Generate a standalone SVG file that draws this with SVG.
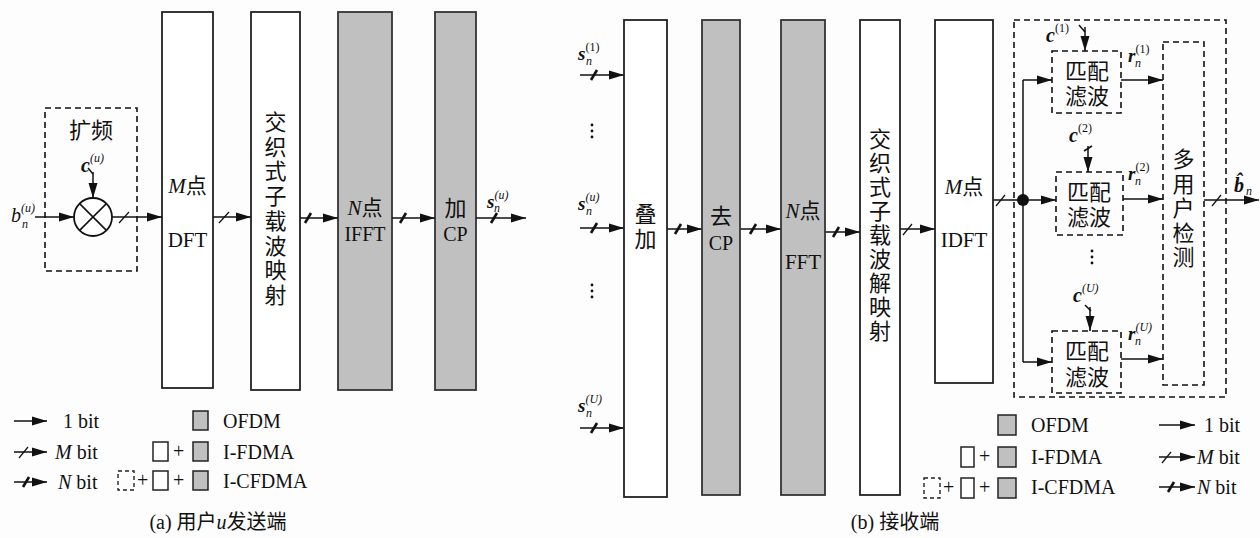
<svg xmlns="http://www.w3.org/2000/svg" width="1260" height="538" viewBox="0 0 1260 538">
<defs>
<style>
text{font-family:"Liberation Serif","Noto Sans CJK SC",serif;fill:#111;}
.t{font-size:21px;text-anchor:middle;}
.cj{font-size:22px;text-anchor:middle;}
.lg{font-size:20px;}
.sm{font-size:12px;}
.bi{font-weight:bold;font-style:italic;}
.it{font-style:italic;}
.box{fill:#fff;stroke:#222;stroke-width:1.8;}
.gbox{fill:#c0c0c0;stroke:#333;stroke-width:1.8;}
.dbox{fill:none;stroke:#111;stroke-width:1.6;stroke-dasharray:6,4;}
.ln{fill:none;stroke:#111;stroke-width:1.5;}
.ar{fill:none;stroke:#111;stroke-width:1.5;marker-end:url(#ah);}
.ms{stroke:#111;stroke-width:1.2;}
.ns{stroke:#111;stroke-width:2.6;}
</style>
<marker id="ah" markerUnits="userSpaceOnUse" markerWidth="16" markerHeight="10" refX="15" refY="5" orient="auto">
<path d="M0,0.5 L15,5 L0,9.5 z" fill="#111"/>
</marker>
</defs>
<rect width="1260" height="538" fill="#fdfdfd"/>

<!-- ===== (a) transmitter ===== -->
<g id="spread">
<rect class="dbox" x="45" y="108" width="92" height="163"/>
<text class="cj" x="91" y="138">扩频</text>
<circle cx="93" cy="217" r="19" fill="#fff" stroke="#111" stroke-width="1.8"/>
<path class="ln" d="M79.6,203.6 L106.4,230.4 M106.4,203.6 L79.6,230.4" stroke-width="1.8"/>
<text x="81" y="172" font-size="20" class="bi">c<tspan class="sm" font-style="italic" font-weight="normal" dy="-10">(u)</tspan></text>
</g>
<g id="dft"><rect class="box" x="162" y="12" width="51" height="376"/>
<text class="t" x="187.5" y="193"><tspan class="it">M</tspan>点</text>
<text class="t" x="187.5" y="247">DFT</text></g>
<g id="map"><rect class="box" x="251" y="12" width="49" height="378"/>
<text class="cj" x="275.5" y="130">交<tspan x="275.5" dy="24.7">织</tspan><tspan x="275.5" dy="24.7">式</tspan><tspan x="275.5" dy="24.7">子</tspan><tspan x="275.5" dy="24.7">载</tspan><tspan x="275.5" dy="24.7">波</tspan><tspan x="275.5" dy="24.7">映</tspan><tspan x="275.5" dy="24.7">射</tspan></text></g>
<g id="ifft"><rect class="gbox" x="338" y="12" width="54" height="378"/>
<text class="t" x="365" y="215"><tspan class="it">N</tspan>点</text>
<text x="365" y="241" font-size="20" text-anchor="middle">IFFT</text></g>
<g id="addcp"><rect class="gbox" x="435" y="12" width="41" height="378"/>
<text class="cj" x="455.5" y="216">加</text>
<text x="455.5" y="241" font-size="20" text-anchor="middle">CP</text></g>
<g id="labels-a">
<text x="11" y="222" font-size="20" class="it">b<tspan class="sm" dy="-10">(u)</tspan><tspan class="sm" x="22" dy="16">n</tspan></text>
<text x="487" y="208" font-size="19" class="bi">s<tspan class="sm" font-weight="normal" dy="-9">(u)</tspan><tspan class="sm" font-weight="normal" x="494" dy="13">n</tspan></text>
</g>

<g id="connectors">
<!-- (a) -->
<path class="ar" d="M35,217 H74"/>
<path class="ln" d="M88,168 L93,174"/>
<path class="ar" d="M93,172 V198"/>
<path class="ar" d="M112,217 H162"/><line class="ms" x1="119" y1="223" x2="129" y2="212"/>
<path class="ar" d="M213,217 H251"/><line class="ms" x1="219" y1="223" x2="229" y2="212"/>
<path class="ar" d="M300,218 H338"/><line class="ns" x1="305" y1="223" x2="311" y2="213"/>
<path class="ar" d="M392,218 H435"/><line class="ns" x1="400" y1="223" x2="406" y2="213"/>
<path class="ar" d="M476,218 H526"/><line class="ns" x1="491" y1="223" x2="497" y2="213"/>
<!-- (b) -->
<path class="ar" d="M580,75 H624"/><line class="ns" x1="591" y1="80" x2="597" y2="70"/>
<path class="ar" d="M580,228 H624"/><line class="ns" x1="591" y1="233" x2="597" y2="223"/>
<path class="ar" d="M580,428 H624"/><line class="ns" x1="591" y1="433" x2="597" y2="423"/>
<path class="ar" d="M667,229 H702"/><line class="ns" x1="675" y1="234" x2="681" y2="224"/>
<path class="ar" d="M740,229 H781"/><line class="ns" x1="750" y1="234" x2="756" y2="224"/>
<path class="ar" d="M825,232 H860"/><line class="ns" x1="833" y1="237" x2="839" y2="227"/>
<path class="ar" d="M900,229 H935"/><line class="ms" x1="903" y1="235" x2="912" y2="224"/>
<path class="ln" d="M993,200 H1023"/><line class="ms" x1="996" y1="206" x2="1005" y2="195"/>
<circle cx="1023" cy="200" r="6" fill="#111"/>
<path class="ln" d="M1023,80 V362"/>
<path class="ar" d="M1023,80 H1052"/>
<path class="ar" d="M1023,200 H1056"/>
<path class="ar" d="M1023,362 H1052"/>
<path class="ln" d="M1079,25 L1085,32"/>
<path class="ar" d="M1085,27 V51"/>
<path class="ln" d="M1084,151 L1092,146"/>
<path class="ar" d="M1088,146 V172"/>
<path class="ln" d="M1085,305 L1091,311"/>
<path class="ar" d="M1090,307 V331"/>
<path class="ar" d="M1121,80 H1163"/>
<path class="ar" d="M1123,199 H1163"/>
<path class="ar" d="M1121,359 H1163"/>
<path class="ar" d="M1204,200 H1259"/><line class="ms" x1="1212" y1="206" x2="1221" y2="195"/>
<!-- legends -->
<path class="ar" d="M14,421 H47"/>
<path class="ar" d="M14,452 H47"/><line class="ms" x1="19" y1="458" x2="28" y2="447"/>
<path class="ar" d="M14,482 H47"/><line class="ns" x1="23" y1="487" x2="29" y2="477"/>
<path class="ar" d="M1159,425 H1195"/>
<path class="ar" d="M1159,457 H1195"/><line class="ms" x1="1162" y1="463" x2="1171" y2="452"/>
<path class="ar" d="M1159,487 H1195"/><line class="ns" x1="1168" y1="492" x2="1174" y2="482"/>
</g>

<!-- ===== (b) receiver ===== -->
<g id="inputs">
<text x="578" y="60" font-size="19" class="bi">s<tspan class="sm" font-weight="normal" font-style="normal" dy="-9">(1)</tspan><tspan class="sm" font-weight="normal" x="586" dy="14">n</tspan></text>
<text x="578" y="210" font-size="19" class="bi">s<tspan class="sm" font-weight="normal" dy="-9">(u)</tspan><tspan class="sm" font-weight="normal" x="586" dy="14">n</tspan></text>
<text x="578" y="412" font-size="19" class="bi">s<tspan class="sm" font-weight="normal" dy="-9">(U)</tspan><tspan class="sm" font-weight="normal" x="586" dy="14">n</tspan></text>
<g fill="#111"><circle cx="592" cy="125" r="1.4"/><circle cx="592" cy="131" r="1.4"/><circle cx="592" cy="137" r="1.4"/>
<circle cx="592" cy="285" r="1.4"/><circle cx="592" cy="291" r="1.4"/><circle cx="592" cy="297" r="1.4"/></g>
</g>
<g id="sum"><rect class="box" x="624" y="20" width="43" height="477"/>
<text class="cj" x="645.5" y="222">叠<tspan x="645.5" dy="25">加</tspan></text></g>
<g id="rmcp"><rect class="gbox" x="702" y="20" width="38" height="475"/>
<text class="cj" x="721" y="224">去</text><text x="721" y="250" font-size="20" text-anchor="middle">CP</text></g>
<g id="fft"><rect class="gbox" x="781" y="20" width="44" height="475"/>
<text class="t" x="803" y="218"><tspan class="it">N</tspan>点</text><text class="t" x="803" y="269">FFT</text></g>
<g id="demap"><rect class="box" x="860" y="20" width="40" height="475"/>
<text class="cj" x="880" y="147">交<tspan x="880" dy="24">织</tspan><tspan x="880" dy="24">式</tspan><tspan x="880" dy="24">子</tspan><tspan x="880" dy="24">载</tspan><tspan x="880" dy="24">波</tspan><tspan x="880" dy="24">解</tspan><tspan x="880" dy="24">映</tspan><tspan x="880" dy="24">射</tspan></text></g>
<g id="idft"><rect class="box" x="935" y="20" width="58" height="363"/>
<text class="t" x="964" y="194"><tspan class="it">M</tspan>点</text><text class="t" x="964" y="247">IDFT</text></g>
<g id="detector">
<rect class="dbox" x="1014" y="20" width="212" height="377"/>
<rect class="dbox" x="1052" y="51" width="69" height="62"/>
<text class="cj" x="1087" y="79">匹配<tspan x="1087" dy="25">滤波</tspan></text>
<rect class="dbox" x="1056" y="172" width="67" height="63"/>
<text class="cj" x="1089" y="200">匹配<tspan x="1089" dy="25">滤波</tspan></text>
<rect class="dbox" x="1052" y="331" width="69" height="62"/>
<text class="cj" x="1087" y="359">匹配<tspan x="1087" dy="26">滤波</tspan></text>
<rect class="dbox" x="1163" y="42" width="41" height="343"/>
<text class="cj" x="1183.5" y="167">多<tspan x="1183.5" dy="24.5">用</tspan><tspan x="1183.5" dy="24.5">户</tspan><tspan x="1183.5" dy="24.5">检</tspan><tspan x="1183.5" dy="24.5">测</tspan></text>
<g fill="#111"><circle cx="1092" cy="251" r="1.4"/><circle cx="1092" cy="257" r="1.4"/><circle cx="1092" cy="263" r="1.4"/></g>
<text x="1046" y="42" font-size="20" class="bi">c<tspan class="sm" font-weight="normal" font-style="normal" dy="-10">(1)</tspan></text>
<text x="1069" y="142" font-size="20" class="bi">c<tspan class="sm" font-weight="normal" font-style="normal" dy="-10">(2)</tspan></text>
<text x="1073" y="302" font-size="20" class="bi">c<tspan class="sm" font-weight="normal" dy="-10">(U)</tspan></text>
<text x="1128" y="62" font-size="19" class="bi">r<tspan class="sm" font-weight="normal" font-style="normal" dy="-9">(1)</tspan><tspan class="sm" font-weight="normal" x="1135" dy="14">n</tspan></text>
<text x="1128" y="180" font-size="19" class="bi">r<tspan class="sm" font-weight="normal" font-style="normal" dy="-9">(2)</tspan><tspan class="sm" font-weight="normal" x="1135" dy="14">n</tspan></text>
<text x="1128" y="340" font-size="19" class="bi">r<tspan class="sm" font-weight="normal" dy="-9">(U)</tspan><tspan class="sm" font-weight="normal" x="1135" dy="14">n</tspan></text>
<text x="1234" y="192" font-size="20" class="bi">b̂<tspan class="sm" font-weight="normal" x="1246" dy="3">n</tspan></text>
</g>

<!-- legends -->
<g id="legend-a">
<text class="lg" x="63" y="428">1 bit</text>
<text class="lg" x="55" y="459"><tspan class="it">M</tspan> bit</text>
<text class="lg" x="58" y="489"><tspan class="it">N</tspan> bit</text>
<rect x="193" y="411" width="15" height="19" fill="#c0c0c0" stroke="#222" stroke-width="1.5"/>
<rect x="153" y="442" width="15" height="19" fill="#fff" stroke="#222" stroke-width="1.5"/>
<text class="lg" x="173" y="458">+</text>
<rect x="193" y="442" width="15" height="19" fill="#c0c0c0" stroke="#222" stroke-width="1.5"/>
<rect x="118" y="471" width="16" height="19" fill="none" stroke="#222" stroke-width="1.4" stroke-dasharray="4,3"/>
<text class="lg" x="137" y="487">+</text>
<rect x="153" y="471" width="15" height="19" fill="#fff" stroke="#222" stroke-width="1.5"/>
<text class="lg" x="173" y="487">+</text>
<rect x="193" y="471" width="15" height="19" fill="#c0c0c0" stroke="#222" stroke-width="1.5"/>
<text class="lg" x="223" y="428">OFDM</text>
<text class="lg" x="223" y="459">I-FDMA</text>
<text class="lg" x="223" y="488">I-CFDMA</text>
<text x="218" y="529" font-size="20" text-anchor="middle">(a) 用户<tspan class="it">u</tspan>发送端</text>
</g>
<g id="legend-b">
<rect x="998" y="415" width="18" height="20" fill="#c0c0c0" stroke="#222" stroke-width="1.5"/>
<rect x="961" y="447" width="13" height="20" fill="#fff" stroke="#222" stroke-width="1.5"/>
<text class="lg" x="979" y="463">+</text>
<rect x="998" y="447" width="18" height="20" fill="#c0c0c0" stroke="#222" stroke-width="1.5"/>
<rect x="924" y="478" width="16" height="20" fill="none" stroke="#222" stroke-width="1.4" stroke-dasharray="4,3"/>
<text class="lg" x="943" y="494">+</text>
<rect x="961" y="478" width="13" height="20" fill="#fff" stroke="#222" stroke-width="1.5"/>
<text class="lg" x="979" y="494">+</text>
<rect x="998" y="478" width="18" height="20" fill="#c0c0c0" stroke="#222" stroke-width="1.5"/>
<text class="lg" x="1031" y="432">OFDM</text>
<text class="lg" x="1031" y="464">I-FDMA</text>
<text class="lg" x="1031" y="494">I-CFDMA</text>
<text class="lg" x="1204" y="432">1  bit</text>
<text class="lg" x="1197" y="464"><tspan class="it">M</tspan> bit</text>
<text class="lg" x="1197" y="494"><tspan class="it">N</tspan> bit</text>
<text x="895" y="529" font-size="20" text-anchor="middle">(b) 接收端</text>
</g>
</svg>
